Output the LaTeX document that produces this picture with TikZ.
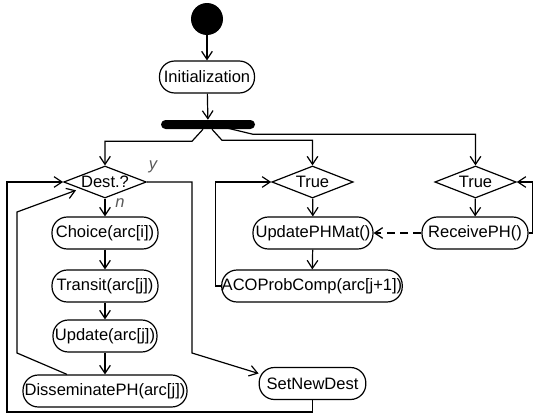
\documentclass[tikz,border=0pt]{standalone}
\usepackage{fontspec}
\setmainfont{Liberation Sans}
\usetikzlibrary{shapes.geometric,arrows.meta}
\begin{document}
\begin{tikzpicture}[x=0.75pt,y=-0.75pt,
	every node/.style={font=\fontsize{12.4}{14}\selectfont},
	act/.style={draw,rectangle,rounded corners=11.5pt,minimum height=24pt,inner sep=0pt,line width=0.9pt},
	cond/.style={draw,diamond,aspect=2.6,minimum width=61pt,minimum height=24pt,inner sep=0pt,line width=0.9pt},
	arr/.style={-{Straight Barb[length=6pt,width=8pt]},line width=0.9pt},
	lbl/.style={text=black!65,font=\fontsize{12.4}{14}\selectfont\itshape}]
		\useasboundingbox (0,0) rectangle (533,418);
		% start and fork
		\node[circle,fill=black,minimum size=24pt,inner sep=0pt] (start) at (207,19) {};
		\node[act,minimum width=71.25pt] (init) at (207,77) {Initialization};
		\node[fill=black,rounded corners=3.4pt,minimum width=70.5pt,minimum height=6.75pt,inner sep=0pt] (fork) at (208,124.5) {};
		% left column
		\node[cond,minimum width=62pt] (dest) at (105,182) {Dest.?};
		\node[act,minimum width=79.5pt] (choice) at (105,233) {Choice(arc[i])};
		\node[act,minimum width=79.5pt] (transit) at (105,286) {Transit(arc[j])};
		\node[act,minimum width=78pt] (update) at (105,336) {Update(arc[j])};
		\node[act,minimum width=123pt] (dissem) at (105,391) {DisseminatePH(arc[j])};
		\node[act,minimum width=80pt] (setdest) at (312.5,383.5) {SetNewDest};
		\node[lbl] (ylab) at (153,167) {y};
		\node[lbl] (nlab) at (120,203) {n};
		% middle column
		\node[cond] (true1) at (312.5,182) {True};
		\node[act,minimum width=90pt] (updmat) at (313,233) {UpdatePHMat()};
		\node[act,minimum width=135pt] (acoprob) at (312,286) {ACOProbComp(arc[j+1])};
		% right column
		\node[cond] (true2) at (475.5,182) {True};
		\node[act,minimum width=79.5pt] (receive) at (475,233) {ReceivePH()};
		\coordinate (ybend) at (192,353);
		\coordinate (outer) at (7,412);
		\coordinate (inA) at (17,353);
		\coordinate (inB) at (17,212);
		% connectors
		\draw[arr] (start) -- (init);
		\draw[arr] (init) -- (fork);
		\draw[arr] ([xshift=-3.75pt]fork.south) -- ++(-11,12) -| (dest.north);
		\draw[arr] ([xshift=3pt]fork.south) -- ++(10,11) -| (true1.north);
		\draw[arr] ([xshift=15pt,yshift=0.75pt]fork.south) -- ++(25,6) -| (true2.north);
		\draw[arr] (dest) -- (choice);
		\draw[arr] (choice) -- (transit);
		\draw[arr] (transit) -- (update);
		\draw[arr] (update) -- (dissem);
		\draw[arr] (dest.east) -| (ybend) -- ([yshift=7.5pt]setdest.west);
		\draw[arr] (setdest.south) |- (outer) |- (dest.west);
		\draw[arr] ([xshift=-28.5pt]dissem.north) -- (inA) -- (inB) -- ([xshift=-6pt]dest.south west);
		\draw[arr] (true1) -- (updmat);
		\draw[arr] (updmat) -- (acoprob);
		\draw[arr] (acoprob.west) -- ++(-6,0) |- (true1.west);
		\draw[arr] (true2) -- (receive);
		\draw[arr] (receive.east) -- ++(4,0) |- (true2.east);
		\draw[arr,dashed,dash pattern=on 6pt off 4pt] (receive.west) -- (updmat.east);
	\end{tikzpicture}
\end{document}
